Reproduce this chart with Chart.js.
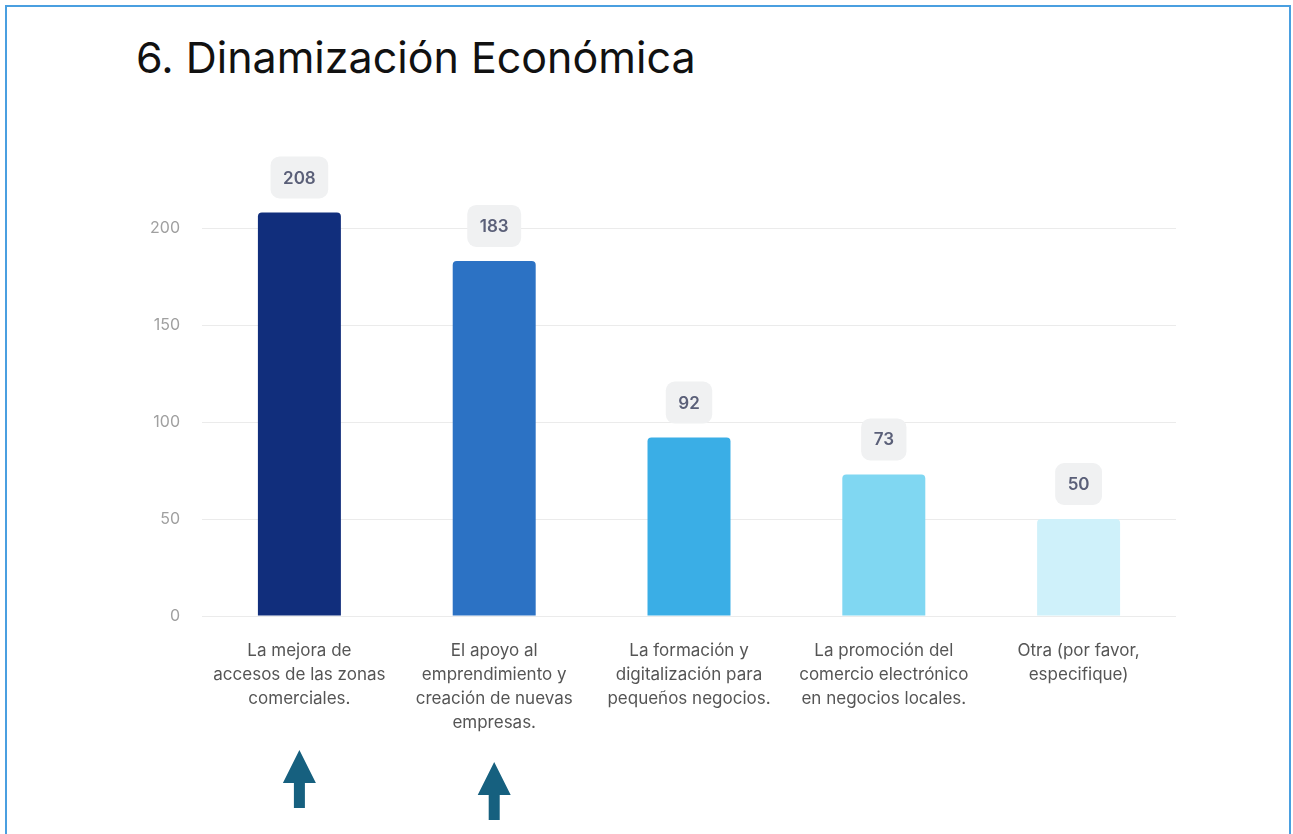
<!DOCTYPE html>
<html>
<head>
<meta charset="utf-8">
<script src="https://cdn.jsdelivr.net/npm/chart.js@4.4.1/dist/chart.umd.min.js"></script>
<style>
  html, body { margin: 0; padding: 0; background: #fff; }
  body { width: 1293px; height: 834px; position: relative; overflow: hidden; font-family: Inter, "Noto Sans", sans-serif; }
  #frame { position: absolute; left: 5px; top: 5px; width: 1286px; height: 860px; border: 2px solid #4a9fe0; box-sizing: border-box; }
  #title { position: absolute; left: 136px; top: 32px; margin: 0; font-size: 43px; font-weight: 400; color: #111; line-height: 1.2; }
  #wrap { position: absolute; left: 0; top: 0; width: 1293px; height: 834px; }
</style>
</head>
<body>
<div id="frame"></div>
<h1 id="title">6. Dinamización Económica</h1>
<div id="wrap"><canvas id="mycanvas"></canvas></div>
<script>
var categories = [
	["La mejora de", "accesos de las zonas", "comerciales."],
	["El apoyo al", "emprendimiento y", "creación de nuevas", "empresas."],
	["La formación y", "digitalización para", "pequeños negocios."],
	["La promoción del", "comercio electrónico", "en negocios locales."],
	["Otra (por favor,", "especifique)"]
];
var votes = [208, 183, 92, 73, 50];
var barColors = ["#112e7c", "#2c72c4", "#3aaee6", "#80d7f2", "#cff1fa"];
var yTicks = [0, 50, 100, 150, 200];

// arrows under the first two categories (index, tip distance below axis)
var arrowIdx = [0, 1];
var arrowTip = [134, 146];

var valueBoxes = {
	id: 'valueBoxes',
	afterDatasetsDraw: function(chart) {
		var ctx = chart.ctx;
		var meta = chart.getDatasetMeta(0);
		ctx.save();
		ctx.font = "600 17px Inter, sans-serif";
		ctx.textAlign = "center";
		ctx.textBaseline = "middle";
		meta.data.forEach(function(bar, i) {
			var txt = String(votes[i]);
			var w = ctx.measureText(txt).width + 25;
			var h = 42;
			var x = bar.x - w / 2;
			var y = bar.y - 14 - h;
			ctx.fillStyle = "#f0f1f2";
			ctx.beginPath();
			ctx.roundRect(x, y, w, h, 9);
			ctx.fill();
			ctx.fillStyle = "#5a5f78";
			ctx.fillText(txt, bar.x, y + h / 2 + 1);
		});
		ctx.restore();
	}
};

var arrows = {
	id: 'arrows',
	afterDraw: function(chart) {
		var ctx = chart.ctx;
		var bottom = chart.chartArea.bottom;
		ctx.save();
		ctx.fillStyle = "#16607f";
		arrowIdx.forEach(function(idx, k) {
			var cx = chart.scales.x.getPixelForValue(idx);
			var top = bottom + arrowTip[k];
			ctx.beginPath();
			ctx.moveTo(cx, top);
			ctx.lineTo(cx + 16.5, top + 33);
			ctx.lineTo(cx + 5.5, top + 33);
			ctx.lineTo(cx + 5.5, top + 58);
			ctx.lineTo(cx - 5.5, top + 58);
			ctx.lineTo(cx - 5.5, top + 33);
			ctx.lineTo(cx - 16.5, top + 33);
			ctx.closePath();
			ctx.fill();
		});
		ctx.restore();
	}
};

var chartdata = {
	labels: categories,
	datasets: [
		{
			label: "Respuestas",
			data: votes,
			backgroundColor: barColors,
			borderRadius: 4,
			borderSkipped: 'start',
			categoryPercentage: 1,
			barPercentage: 0.426,
			clip: false
		}
	]
};

var ctx = document.getElementById("mycanvas");
var BarGraph = new Chart(ctx, {
	type: 'bar',
	data: chartdata,
	plugins: [valueBoxes, arrows],
	options: {
		responsive: true,
		maintainAspectRatio: false,
		animation: false,
		layout: { padding: { top: 228, right: 117, bottom: 0, left: 0 } },
		plugins: {
			legend: { display: false },
			tooltip: { enabled: false }
		},
		scales: {
			x: {
				grid: { display: false, drawTicks: false },
				border: { display: false },
				ticks: {
					color: "#555",
					font: { family: "Inter, sans-serif", size: 17, lineHeight: 24 / 17 },
					padding: 23,
					maxRotation: 0,
					autoSkip: false
				},
				afterFit: function(scale) { scale.height = 218; }
			},
			y: {
				min: 0,
				max: 200,
				afterBuildTicks: function(scale) {
					scale.ticks = yTicks.map(function(v) { return { value: v }; });
				},
				grid: { color: "#ebebeb", lineWidth: 1, drawTicks: false },
				border: { display: false },
				ticks: {
					color: "#a0a0a0",
					font: { family: "Inter, sans-serif", size: 16 },
					padding: 22
				},
				afterFit: function(scale) { scale.width = 202; }
			}
		}
	}
});
</script>
</body>
</html>
